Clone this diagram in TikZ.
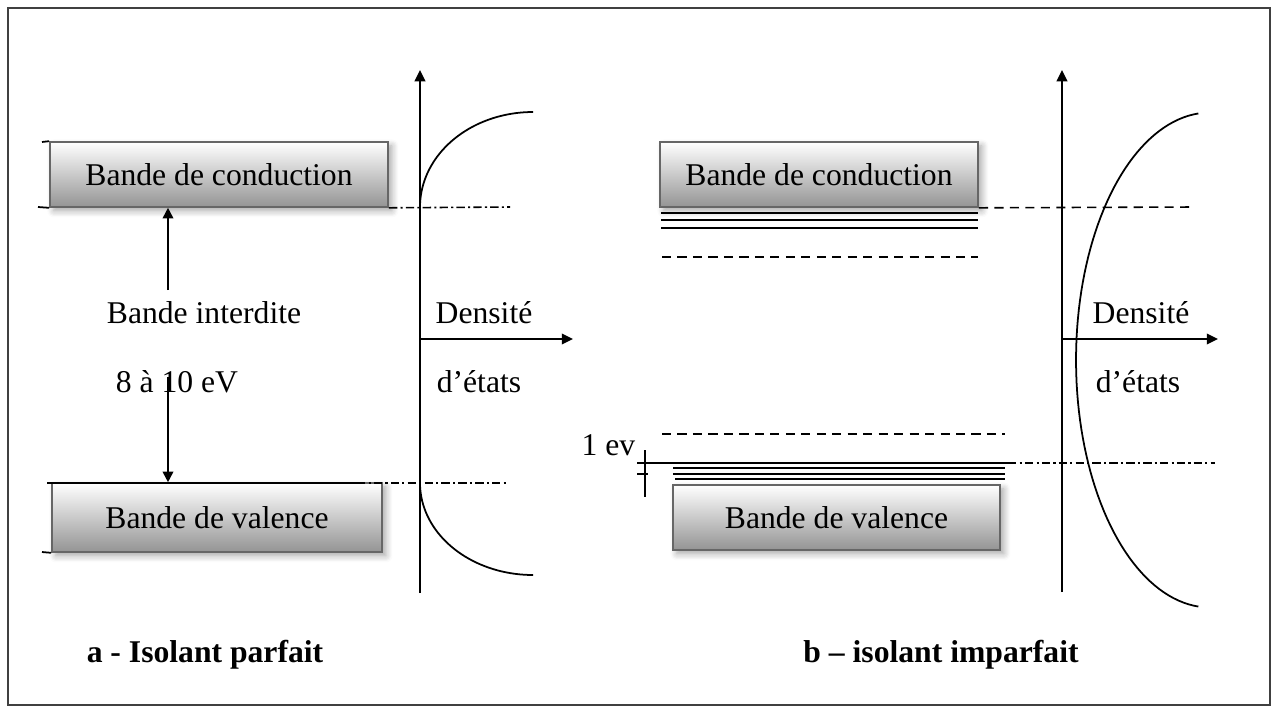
\documentclass[tikz,border=0pt]{standalone}
\usepackage{fontspec}
\setmainfont{Liberation Serif}
\usetikzlibrary{arrows.meta,shadows.blur}
\begin{document}
\begin{tikzpicture}[x=0.01cm,y=-0.01cm,
  font=\fontsize{9}{11}\selectfont,
  band/.style={draw=black!60, line width=0.45pt, top color=white, bottom color=black!42,
    inner sep=0pt, blur shadow={shadow xshift=1.1pt, shadow yshift=-1.1pt, shadow blur steps=6, shadow opacity=35}},
  lbl/.style={inner sep=2pt},
  axisline/.style={line width=0.6pt, -{Triangle[length=3.2pt,width=3pt]}},
  gaparrow/.style={line width=0.5pt, -{Triangle[length=3pt,width=3pt]}},
  thinline/.style={line width=0.5pt},
  tick/.style={line width=0.5pt},
  dashdot/.style={line width=0.45pt, dash pattern=on 2.4pt off 0.9pt on 0.6pt off 0.9pt},
  dashline/.style={line width=0.45pt, dash pattern=on 2.6pt off 1.8pt},
  dosline/.style={line width=0.5pt},
  frameline/.style={draw=black!75, line width=0.45pt}
]
\useasboundingbox (0,0) rectangle (1277,709);
\draw[frameline] (8,8) rectangle (1270,705);

% ---------------- Panel a ----------------
\node[band, minimum width=3.38cm, minimum height=0.65cm] (cb1) at (219,174.5) {Bande de conduction};
\node[band, minimum width=3.30cm, minimum height=0.69cm] (vb1) at (217,517.5) {Bande de valence};

% ticks
\draw[tick] (42,142) -- (cb1.north west);
\draw[tick] (38,207) -- (cb1.south west);
\coordinate (vl0) at (47,483);
\coordinate (vl1) at (357,483);
\draw[thinline] (vl0) -- (vl1);
\draw[tick] (42,552) -- (vb1.south west);

% gap labels and arrows
\node[lbl] (bi) at (204,313) {Bande interdite};
\node[lbl] (ev) at (177,382) {8 à 10 eV};
\coordinate (g0) at (168,290);
\coordinate (g1) at (168,377);
\draw[gaparrow] (g0) -- (g0 |- cb1.south);
\draw[gaparrow] (g1) -- (g1 |- vb1.north);

% axes
\coordinate (a1b) at (420,593);
\coordinate (a1t) at (420,70);
\coordinate (a1o) at (420,339);
\coordinate (a1e) at (573,339);
\draw[axisline] (a1b) -- (a1t);
\draw[axisline] (a1o) -- (a1e);
\node[lbl] (d1) at (484,313) {Densité};
\node[lbl] (e1) at (479,382) {d’états};

% level lines
\coordinate (c1r) at (510,207);
\draw[dashdot] (cb1.south east) -- (c1r);
\coordinate (v1r) at (508,483);
\draw[dashdot] (vl1) -- (v1r);

% density of states curves
\draw[dosline] plot[domain=0:90, samples=40] ({533-113*cos(\x)}, {207-95*sin(\x)});
\draw[dosline] plot[domain=0:90, samples=40] ({533-113*cos(\x)}, {483+92*sin(\x)});

\node[lbl, font=\fontsize{9}{11}\selectfont\bfseries] (ta) at (205,655) {a - Isolant parfait};

% ---------------- Panel b ----------------
\node[band, minimum width=3.18cm, minimum height=0.65cm] (cb2) at (819,174.5) {Bande de conduction};
\node[band, minimum width=3.27cm, minimum height=0.65cm] (vb2) at (836.5,517.5) {Bande de valence};

% levels below conduction band
\draw[thinline] (661,213) -- (978,213);
\draw[thinline] (661,220) -- (978,220);
\draw[thinline] (661,228) -- (978,228);
\draw[dashline] (662,257) -- (978,257);
\coordinate (c2r) at (1195,207);
\draw[dashline] (cb2.south east) -- (c2r);

% levels above valence band
\draw[dashline] (662,434) -- (1005,434);
\coordinate (w0) at (637,463);
\coordinate (w1) at (1008,463);
\coordinate (w2) at (1215,463);
\draw[thinline] (w0) -- (w1);
\draw[dashdot] (w1) -- (w2);
\draw[thinline] (673,468) -- (1005,468);
\draw[thinline] (673,474) -- (1005,474);
\draw[thinline] (675,479) -- (1005,479);
\draw[tick] (637,474) -- (648,474);
\draw[tick] (645,450) -- (645,497);
\node[lbl, anchor=east] (ev1) at (643,445) {1 ev};

% axes
\coordinate (a2b) at (1062,592);
\coordinate (a2t) at (1062,70);
\coordinate (a2o) at (1062,339);
\coordinate (a2e) at (1218,339);
\draw[axisline] (a2b) -- (a2t);
\draw[axisline] (a2o) -- (a2e);
\node[lbl] (d2) at (1141,313) {Densité};
\node[lbl] (e2) at (1138,382) {d’états};

% density of states curve
\draw[dosline] plot[domain=-85:85, samples=80] ({1210-134*cos(\x)}, {360+247.5*sin(\x)});

\node[lbl, font=\fontsize{9}{11}\selectfont\bfseries] (tb) at (941,655) {b – isolant imparfait};
\end{tikzpicture}
\end{document}
